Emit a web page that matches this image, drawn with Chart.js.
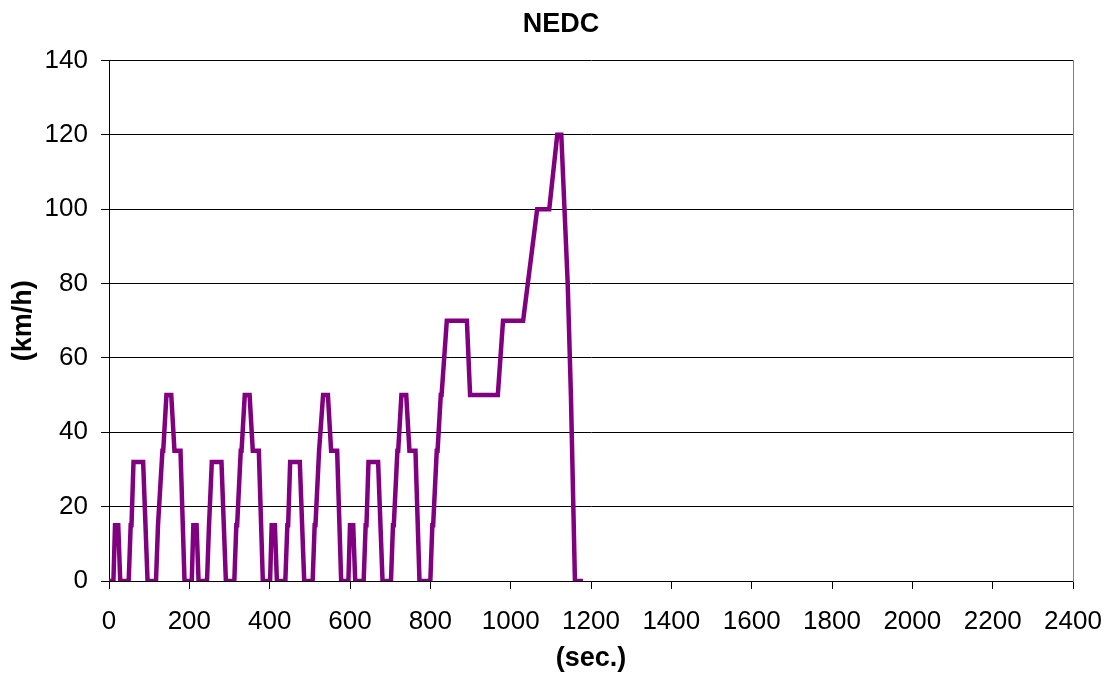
<!DOCTYPE html>
<html>
<head>
<meta charset="utf-8">
<title>NEDC</title>
<script src="https://cdn.jsdelivr.net/npm/chart.js@4/dist/chart.umd.min.js"></script>
<style>
  html, body { margin: 0; padding: 0; background: #fff; }
  #wrap { width: 1112px; height: 677px; }
</style>
</head>
<body>
<div id="wrap"><canvas id="c" width="1112" height="677"></canvas></div>
<script>
// NEDC speed profile: turning points of the cycle (time in s, speed in km/h)
// Four urban ECE-15 cycles (0-780 s) followed by the extra-urban EUDC part (780-1180 s)
const timeSec = [
  0, 11, 15, 23, 28, 49, 54, 56, 61, 85, 96, 117, 122, 124, 133, 135, 143, 155, 163, 178, 188, 195,
  206, 210, 218, 223, 244, 249, 251, 256, 280, 291, 312, 317, 319, 328, 330, 338, 350, 358, 373, 383, 390,
  401, 405, 413, 418, 439, 444, 446, 451, 475, 486, 507, 512, 514, 523, 525, 533, 545, 553, 568, 578, 585,
  596, 600, 608, 613, 634, 639, 641, 646, 670, 681, 702, 707, 709, 718, 720, 728, 740, 748, 763, 773, 780,
  800, 805, 807, 816, 818, 826, 828, 841, 891, 899, 968, 981, 1031, 1066, 1096, 1116, 1126, 1142, 1150, 1160, 1180
];
const speedKmh = [
  0, 0, 15, 15, 0, 0, 15, 15, 32, 32, 0, 0, 15, 15, 35, 35, 50, 50, 35, 35, 0, 0,
  0, 15, 15, 0, 0, 15, 15, 32, 32, 0, 0, 15, 15, 35, 35, 50, 50, 35, 35, 0, 0,
  0, 15, 15, 0, 0, 15, 15, 32, 32, 0, 0, 15, 15, 35, 35, 50, 50, 35, 35, 0, 0,
  0, 15, 15, 0, 0, 15, 15, 32, 32, 0, 0, 15, 15, 35, 35, 50, 50, 35, 35, 0, 0,
  0, 15, 15, 35, 35, 50, 50, 70, 70, 50, 50, 70, 70, 100, 100, 120, 120, 80, 50, 0, 0
];
const xTickValues = [0, 200, 400, 600, 800, 1000, 1200, 1400, 1600, 1800, 2000, 2200, 2400];
const yTickValues = [0, 20, 40, 60, 80, 100, 120, 140];

const FONT = "'Liberation Sans', Arial, Helvetica, sans-serif";

const points = timeSec.map((t, i) => ({ x: t, y: speedKmh[i] }));

new Chart(document.getElementById('c'), {
  type: 'line',
  data: {
    datasets: [{
      label: 'NEDC',
      data: points,
      borderColor: '#800080',
      backgroundColor: '#800080',
      borderWidth: 4.5,
      pointRadius: 0,
      tension: 0,
      fill: false
    }]
  },
  options: {
    responsive: false,
    animation: false,
    devicePixelRatio: 1,
    layout: { padding: { left: 10, right: 0, top: 0, bottom: 0 } },
    plugins: {
      legend: { display: false },
      tooltip: { enabled: false },
      title: {
        display: true,
        text: 'NEDC',
        color: '#000',
        font: { family: FONT, size: 27, weight: 'bold' },
        padding: { top: 8, bottom: 20 }
      }
    },
    scales: {
      x: {
        type: 'linear',
        position: 'bottom',
        min: 0,
        max: 2400,
        afterBuildTicks: s => { s.ticks = xTickValues.map(v => ({ value: v })); },
        afterFit: s => { s.height = 96; s.paddingLeft = 0; s.paddingRight = 0; },
        grid: { drawOnChartArea: false, drawTicks: true, tickLength: 8, tickColor: '#000', tickWidth: 1 },
        border: { display: true, color: '#000', width: 1 },
        ticks: {
          color: '#000',
          font: { family: FONT, size: 26 },
          padding: 17,
          maxRotation: 0,
          autoSkip: false,
          callback: v => String(v)
        },
        title: {
          display: true,
          text: '(sec.)',
          color: '#000',
          font: { family: FONT, size: 27, weight: 'bold' },
          padding: { top: 0, bottom: 2 }
        }
      },
      y: {
        type: 'linear',
        position: 'left',
        min: 0,
        max: 140,
        afterBuildTicks: s => { s.ticks = yTickValues.map(v => ({ value: v })); },
        afterFit: s => { s.width = 99; },
        grid: { color: '#000', lineWidth: 1, tickLength: 8, tickColor: '#000' },
        border: { display: true, color: '#000', width: 1 },
        ticks: { color: '#000', font: { family: FONT, size: 26 }, padding: 13, callback: v => String(v) },
        title: {
          display: true,
          text: '(km/h)',
          color: '#000',
          font: { family: FONT, size: 27, weight: 'bold' },
          padding: { top: -3, bottom: 0 }
        }
      },
      frame: {
        type: 'linear',
        position: 'right',
        min: 0,
        max: 140,
        afterFit: s => { s.width = 39; },
        grid: { display: false },
        border: { display: true, color: '#808080', width: 1 },
        ticks: { display: false }
      }
    }
  }
});
</script>
</body>
</html>
